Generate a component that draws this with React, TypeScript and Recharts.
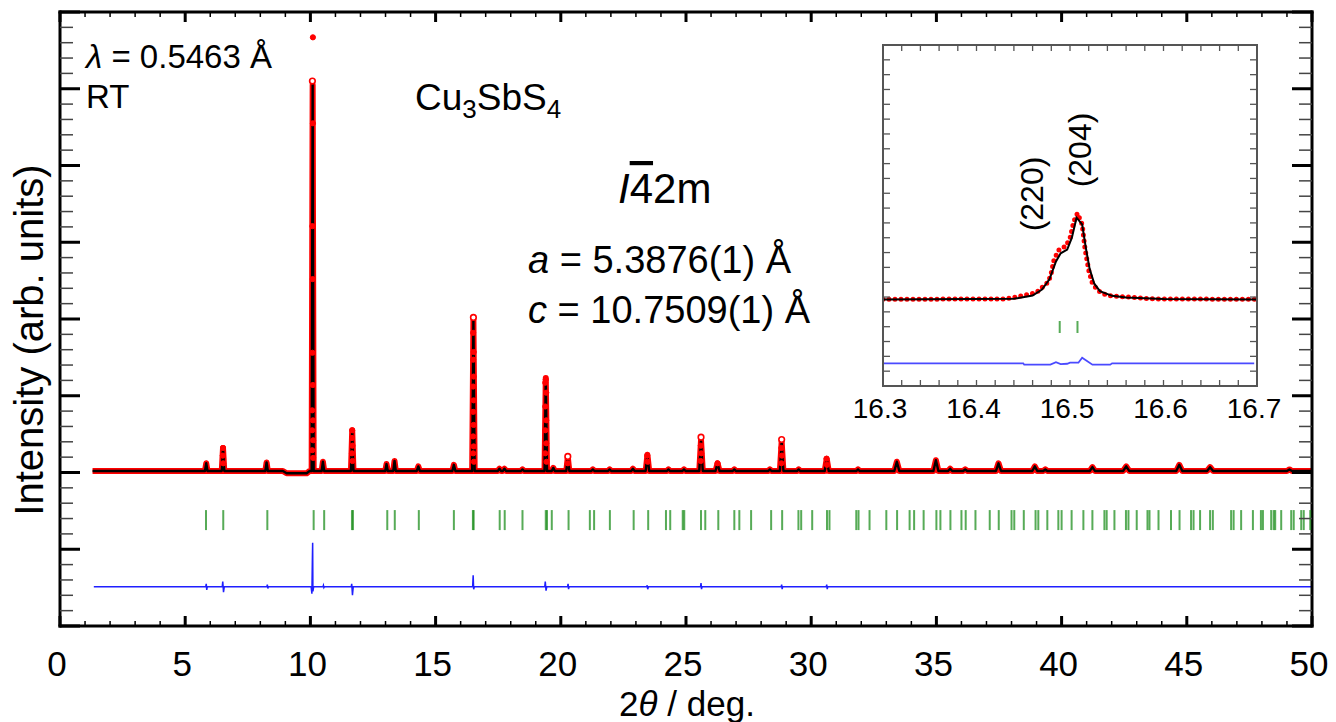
import React from 'react';
import { ComposedChart, Line, Scatter, XAxis, YAxis } from 'recharts';

const FONT = '"Liberation Sans", Arial, Helvetica, sans-serif';

// ---- main pattern (2theta in deg, intensity in major-tick units) ----
const xMajorTicks = [0, 5, 10, 15, 20, 25, 30, 35, 40, 45, 50];
const background = 2.02;

// background of the calculated pattern, incl. the small dip before the 10 deg peak
const baselinePoints: [number, number][] = [
  [1.3, 2.02], [8.9, 2.02], [9.05, 1.99], [9.85, 1.99], [9.97, 2.02], [50, 2.02],
];

// [position, top, half width]
const peaks: [number, number, number][] = [
  [5.84, 2.12, 0.05], [6.51, 2.32, 0.05], [8.25, 2.13, 0.05], [10.09, 7.05, 0.04],
  [10.5, 2.14, 0.05], [11.67, 2.55, 0.05], [13.04, 2.11, 0.05], [13.36, 2.15, 0.05],
  [14.31, 2.08, 0.06], [15.73, 2.1, 0.06], [16.51, 3.99, 0.05], [17.55, 2.05, 0.06],
  [17.75, 2.05, 0.06], [18.47, 2.04, 0.06], [19.4, 3.23, 0.05], [19.7, 2.06, 0.06],
  [20.28, 2.2, 0.06], [21.28, 2.04, 0.06], [21.95, 2.04, 0.06], [22.88, 2.05, 0.06],
  [23.46, 2.23, 0.07], [24.3, 2.04, 0.06], [24.92, 2.04, 0.06], [25.6, 2.42, 0.07],
  [26.26, 2.12, 0.08], [26.93, 2.04, 0.06], [28.35, 2.04, 0.06], [28.82, 2.4, 0.07],
  [29.5, 2.04, 0.06], [30.62, 2.18, 0.08], [31.87, 2.04, 0.06], [33.42, 2.14, 0.1],
  [34.98, 2.16, 0.1], [35.55, 2.05, 0.08], [36.15, 2.04, 0.08], [37.48, 2.12, 0.1],
  [38.93, 2.08, 0.1], [39.35, 2.04, 0.08], [41.23, 2.07, 0.1], [42.58, 2.08, 0.12],
  [44.7, 2.1, 0.12], [45.93, 2.07, 0.12], [49.1, 2.04, 0.1],
];

// observed points that stand out on the peak flanks
const obsFilled: [number, number][] = [
  [10.1, 7.67], [10.1, 6.55], [10.08, 5.21], [10.09, 4.52], [10.08, 3.56], [10.1, 3.14],
  [10.07, 2.81], [10.1, 2.68], [10.07, 2.55], [10.11, 2.42], [10.07, 2.29], [10.11, 2.19],
  [16.5, 3.82], [16.52, 3.57], [16.5, 3.47], [16.52, 3.25], [16.5, 3.12], [16.52, 2.94],
  [16.5, 2.79], [16.52, 2.62], [16.5, 2.47], [16.52, 2.34], [16.5, 2.25], [16.53, 2.14],
  [19.4, 3.21], [19.38, 3.17], [19.42, 3.04], [19.38, 2.86], [19.42, 2.68], [19.38, 2.55],
  [19.42, 2.38], [19.38, 2.25], [19.43, 2.14],
  [11.67, 2.55], [11.66, 2.45], [11.68, 2.35], [11.66, 2.25], [11.68, 2.15],
  [6.51, 2.32], [6.5, 2.22], [6.52, 2.12],
  [25.59, 2.35], [25.61, 2.25], [25.59, 2.15],
  [28.81, 2.32], [28.83, 2.22], [28.81, 2.12],
  [20.28, 2.12], [23.45, 2.22], [23.47, 2.14], [30.61, 2.18], [30.63, 2.1], [26.26, 2.12],
];
const obsOpen: [number, number][] = [
  [10.08, 7.1], [16.51, 4.02], [25.6, 2.46], [28.82, 2.43], [20.28, 2.21],
];

// Bragg reflection positions
const braggLevel = 1.38;
const braggPositions = [
  5.83, 6.52, 8.28, 10.13, 10.55, 11.66, 11.7, 13.07, 13.37, 14.33, 15.73, 16.49, 16.52,
  17.56, 17.76, 18.47, 19.4, 19.45, 19.64, 20.31, 21.16, 21.33, 21.96, 22.91, 23.49, 24.2,
  24.37, 24.87, 24.93, 25.6, 25.77, 26.29, 26.93, 27.13, 27.6, 28.4, 28.84, 29.49, 29.6,
  30.04, 30.63, 30.73, 31.8, 31.89, 32.33, 33.0, 33.43, 33.93, 34.11, 34.49, 35.0, 35.16,
  35.56, 36.0, 36.17, 36.56, 37.13, 37.49, 38.0, 38.11, 38.49, 38.96, 39.07, 39.43, 39.87,
  40.0, 40.4, 40.87, 41.23, 41.71, 41.8, 42.11, 42.57, 42.67, 43.0, 43.43, 43.51, 43.87,
  44.37, 44.71, 45.17, 45.27, 45.53, 45.93, 46.04, 46.77, 46.87, 47.17, 47.64, 47.96, 48.04,
  48.37, 48.47, 48.53, 48.77, 49.17, 49.27, 49.57, 49.67, 49.93,
];

// obs - calc, offset below the ticks
const diffPoints: [number, number][] = [
  [1.35, 0.51], [5.82, 0.51], [5.84, 0.55], [5.86, 0.47], [5.88, 0.51], [6.48, 0.51],
  [6.5, 0.58], [6.53, 0.44], [6.56, 0.51], [8.26, 0.51], [8.28, 0.54], [8.3, 0.49],
  [8.32, 0.51], [10.03, 0.51], [10.06, 0.42], [10.08, 0.9], [10.09, 1.085], [10.1, 0.45],
  [10.13, 0.51], [10.5, 0.51], [10.52, 0.53], [10.54, 0.5], [10.56, 0.51], [11.63, 0.51],
  [11.65, 0.55], [11.68, 0.4], [11.71, 0.51], [16.48, 0.51], [16.5, 0.66], [16.52, 0.48],
  [16.55, 0.51], [19.36, 0.51], [19.38, 0.58], [19.41, 0.46], [19.44, 0.51], [20.27, 0.51],
  [20.29, 0.55], [20.31, 0.48], [20.33, 0.51], [23.43, 0.51], [23.45, 0.53], [23.47, 0.48],
  [23.5, 0.51], [25.58, 0.51], [25.6, 0.56], [25.62, 0.48], [25.64, 0.51], [28.8, 0.51],
  [28.82, 0.54], [28.84, 0.48], [28.86, 0.51], [30.6, 0.51], [30.62, 0.54], [30.64, 0.48],
  [30.66, 0.51], [50, 0.51],
];

// ---- inset around 16.5 deg ----
const insetObs: [number, number][] = [
  [16.3, 5.85], [16.43, 5.87], [16.446, 6.05], [16.464, 6.3], [16.473, 6.81], [16.477, 7.03],
  [16.48, 7.64], [16.483, 8.54], [16.488, 9.17], [16.492, 9.35], [16.495, 9.39], [16.5, 9.96],
  [16.504, 11.08], [16.508, 11.65], [16.513, 10.9], [16.516, 9.28], [16.52, 7.82],
  [16.524, 6.92], [16.529, 6.52], [16.534, 6.25], [16.543, 6.09], [16.557, 6.02],
  [16.59, 5.87], [16.7, 5.85],
];
const insetCalc: [number, number][] = [
  [16.3, 5.83], [16.44, 5.88], [16.46, 6.1], [16.47, 6.5], [16.478, 7.2], [16.485, 8.4],
  [16.49, 8.95], [16.497, 9.2], [16.502, 10.0], [16.507, 11.35], [16.513, 10.9],
  [16.517, 9.3], [16.521, 7.9], [16.526, 6.9], [16.532, 6.4], [16.545, 6.08], [16.56, 5.97],
  [16.6, 5.86], [16.7, 5.84],
];
const insetDiff: [number, number][] = [
  [16.3, 1.53], [16.45, 1.53], [16.451, 1.44], [16.479, 1.44], [16.485, 1.6], [16.49, 1.48],
  [16.497, 1.5], [16.5, 1.57], [16.509, 1.57], [16.513, 1.91], [16.524, 1.44],
  [16.543, 1.44], [16.545, 1.53], [16.697, 1.53],
];
const insetBragg = [16.489, 16.508];
const insetBraggLevel = 3.98;
const insetLabelTicks = [16.3, 16.4, 16.5, 16.6, 16.7];

// ---- helpers ----
const pts = (a: [number, number][]) => a.map(([x, y]) => ({ x, y }));
const steps = (from: number, to: number, step: number) => {
  const out: number[] = [];
  for (let v = from; v <= to + step / 2; v += step) out.push(Math.round(v * 1000) / 1000);
  return out;
};
const isMultiple = (v: number, step: number) => Math.abs(v / step - Math.round(v / step)) < 1e-6;

const profile = [
  ...pts(baselinePoints),
  ...peaks.flatMap(([p, h, w]) => [
    { x: p - w, y: background },
    { x: p, y: h },
    { x: p + w, y: background },
  ]),
].sort((a, b) => a.x - b.x);

const braggData = braggPositions.map((x) => ({ x, y: braggLevel }));
const insetBraggData = insetBragg.map((x) => ({ x, y: insetBraggLevel }));

const xTicks = steps(0, 50, 1);
const yTicks = steps(0, 8, 0.2);
const insetXTicks = steps(16.3, 16.7, 0.02);
const insetYTicks = steps(0, 23, 1);

const frame = { stroke: '#000', strokeWidth: 3, strokeLinecap: 'square' as const };
const insetFrame = { stroke: '#555', strokeWidth: 2, strokeLinecap: 'square' as const };

// ticks point into the plot
const BottomTick = (p: any) => {
  const v = p.payload.value;
  const major = xMajorTicks.includes(v);
  return (
    <g>
      <line x1={p.x} x2={p.x} y1={p.y} y2={p.y - (major ? 10 : 5)} stroke="#000" strokeWidth={major ? 3 : 1.5} />
      {major && (
        <text x={p.x - 3} y={p.y + 50} textAnchor="middle" fontSize={35} fontFamily={FONT} fill="#000">
          {v}
        </text>
      )}
    </g>
  );
};
const TopTick = (p: any) => {
  const major = xMajorTicks.includes(p.payload.value);
  return <line x1={p.x} x2={p.x} y1={p.y} y2={p.y + (major ? 10 : 5)} stroke="#000" strokeWidth={major ? 3 : 1.5} />;
};
const LeftTick = (p: any) => {
  const major = isMultiple(p.payload.value, 1);
  return <line x1={p.x} x2={p.x + (major ? 20 : 13)} y1={p.y} y2={p.y} stroke={major ? '#000' : '#444'} strokeWidth={major ? 3 : 1.5} />;
};
const RightTick = (p: any) => {
  const major = isMultiple(p.payload.value, 1);
  return <line x1={p.x} x2={p.x - (major ? 20 : 13)} y1={p.y} y2={p.y} stroke={major ? '#000' : '#444'} strokeWidth={major ? 3 : 1.5} />;
};

const InsetBottomTick = (p: any) => {
  const v = p.payload.value;
  const labelled = insetLabelTicks.some((t) => Math.abs(t - v) < 1e-6);
  return (
    <g>
      <line x1={p.x} x2={p.x} y1={p.y} y2={p.y - 6} stroke="#555" strokeWidth={1.3} />
      {labelled && (
        <text x={p.x - 3} y={p.y + 32} textAnchor="middle" fontSize={28} fontFamily={FONT} fill="#000">
          {v.toFixed(1)}
        </text>
      )}
    </g>
  );
};
const InsetTopTick = (p: any) => <line x1={p.x} x2={p.x} y1={p.y} y2={p.y + 6} stroke="#555" strokeWidth={1.3} />;
const InsetLeftTick = (p: any) => <line x1={p.x} x2={p.x + 7} y1={p.y} y2={p.y} stroke="#555" strokeWidth={1.3} />;
const InsetRightTick = (p: any) => <line x1={p.x} x2={p.x - 7} y1={p.y} y2={p.y} stroke="#555" strokeWidth={1.3} />;

const RedDot = (p: any) => <circle cx={p.cx} cy={p.cy} r={2.6} fill="#ff0000" stroke="#ff0000" strokeWidth={1} />;
const OpenDot = (p: any) => <circle cx={p.cx} cy={p.cy} r={2.8} fill="#fff" stroke="#ff0000" strokeWidth={1.6} />;
const BraggTick = (p: any) => (
  <line x1={p.cx} x2={p.cx} y1={p.cy - 10} y2={p.cy + 10} stroke="#1f8f1f" strokeOpacity={0.75} strokeWidth={2} />
);
const InsetBraggTick = (p: any) => (
  <line x1={p.cx} x2={p.cx} y1={p.cy - 6} y2={p.cy + 6} stroke="#1f8f1f" strokeOpacity={0.75} strokeWidth={2} />
);

const axisCommon = {
  type: 'number' as const,
  allowDataOverflow: true,
  interval: 0 as const,
  tickSize: 0,
  tickMargin: 0,
  tickLine: false,
};

const MainChart = () => (
  <ComposedChart width={1336} height={722} margin={{ top: 11, right: 23, bottom: 95, left: 59 }}>
    <XAxis xAxisId="b" dataKey="x" domain={[0, 50]} ticks={xTicks} height={1} axisLine={frame} tick={BottomTick} {...axisCommon} />
    <XAxis xAxisId="t" orientation="top" dataKey="x" domain={[0, 50]} ticks={xTicks} height={1} axisLine={frame} tick={TopTick} {...axisCommon} />
    <YAxis yAxisId="l" dataKey="y" domain={[0, 8]} ticks={yTicks} width={1} axisLine={frame} tick={LeftTick} {...axisCommon} />
    <YAxis yAxisId="r" orientation="right" dataKey="y" domain={[0, 8]} ticks={yTicks} width={1} axisLine={frame} tick={RightTick} {...axisCommon} />

    {/* observed: dense points drawn as a thick red band */}
    <Line xAxisId="b" yAxisId="l" data={profile} dataKey="y" type="linear" stroke="#ff0000" strokeWidth={6}
      strokeLinejoin="round" dot={false} activeDot={false} isAnimationActive={false} />
    {/* calculated */}
    <Line xAxisId="b" yAxisId="l" data={profile} dataKey="y" type="linear" stroke="#000" strokeWidth={2.4}
      strokeLinejoin="round" dot={false} activeDot={false} isAnimationActive={false} />
    {/* difference */}
    <Line xAxisId="b" yAxisId="l" data={pts(diffPoints)} dataKey="y" type="linear" stroke="#1f1fff" strokeWidth={1.5}
      dot={false} activeDot={false} isAnimationActive={false} />
    <Scatter xAxisId="b" yAxisId="l" data={pts(obsFilled)} dataKey="y" shape={RedDot} isAnimationActive={false} />
    <Scatter xAxisId="b" yAxisId="l" data={pts(obsOpen)} dataKey="y" shape={OpenDot} isAnimationActive={false} />
    <Scatter xAxisId="b" yAxisId="l" data={braggData} dataKey="y" shape={BraggTick} isAnimationActive={false} />
  </ComposedChart>
);

const InsetChart = () => (
  <ComposedChart width={440} height={400} margin={{ top: 14, right: 32, bottom: 43, left: 32 }}>
    <XAxis xAxisId="b" dataKey="x" domain={[16.3, 16.7]} ticks={insetXTicks} height={1} axisLine={insetFrame} tick={InsetBottomTick} {...axisCommon} />
    <XAxis xAxisId="t" orientation="top" dataKey="x" domain={[16.3, 16.7]} ticks={insetXTicks} height={1} axisLine={insetFrame} tick={InsetTopTick} {...axisCommon} />
    <YAxis yAxisId="l" dataKey="y" domain={[0, 23]} ticks={insetYTicks} width={1} axisLine={insetFrame} tick={InsetLeftTick} {...axisCommon} />
    <YAxis yAxisId="r" orientation="right" dataKey="y" domain={[0, 23]} ticks={insetYTicks} width={1} axisLine={insetFrame} tick={InsetRightTick} {...axisCommon} />

    <Line xAxisId="b" yAxisId="l" data={pts(insetObs)} dataKey="y" type="linear" stroke="#ff0000" strokeWidth={5}
      strokeLinecap="round" strokeDasharray="0 6" dot={false} activeDot={false} isAnimationActive={false} />
    <Line xAxisId="b" yAxisId="l" data={pts(insetCalc)} dataKey="y" type="linear" stroke="#000" strokeWidth={2}
      dot={false} activeDot={false} isAnimationActive={false} />
    <Line xAxisId="b" yAxisId="l" data={pts(insetDiff)} dataKey="y" type="linear" stroke="#4a4aff" strokeWidth={1.8}
      dot={false} activeDot={false} isAnimationActive={false} />
    <Scatter xAxisId="b" yAxisId="l" data={insetBraggData} dataKey="y" shape={InsetBraggTick} isAnimationActive={false} />
  </ComposedChart>
);

const Annotations = () => (
  <svg width={1336} height={722} style={{ position: 'absolute', left: 0, top: 0, pointerEvents: 'none' }} fontFamily={FONT} fill="#000">
    <text x={86} y={68} fontSize={33}>
      <tspan fontStyle="italic">λ</tspan> = 0.5463 Å
    </text>
    <text x={86} y={108} fontSize={33}>RT</text>

    <text x={415} y={110} fontSize={37}>
      Cu<tspan fontSize={26} dy={8}>3</tspan><tspan dy={-8}>SbS</tspan><tspan fontSize={26} dy={8}>4</tspan>
    </text>

    <text x={618} y={203} fontSize={42}>
      <tspan fontStyle="italic">I</tspan><tspan style={{ textDecoration: 'overline' }}>4</tspan>2m
    </text>

    <text x={528} y={273} fontSize={38}>
      <tspan fontStyle="italic">a</tspan> = 5.3876(1) Å
    </text>
    <text x={528} y={323} fontSize={38}>
      <tspan fontStyle="italic">c</tspan> = 10.7509(1) Å
    </text>

    <text transform="translate(43, 340) rotate(-90)" textAnchor="middle" fontSize={40}>
      Intensity (arb. units)
    </text>
    <text x={687} y={716} textAnchor="middle" fontSize={35}>
      2<tspan fontStyle="italic">θ</tspan> / deg.
    </text>

    <text transform="translate(1043, 194) rotate(-90)" textAnchor="middle" fontSize={32}>(220)</text>
    <text transform="translate(1091, 150) rotate(-90)" textAnchor="middle" fontSize={32}>(204)</text>
  </svg>
);

export default function App() {
  return (
    <div style={{ position: 'absolute', left: 0, top: 0, width: 1336, height: 722, background: '#fff', fontFamily: FONT }}>
      <div style={{ position: 'absolute', left: 0, top: 0 }}>
        <MainChart />
      </div>
      <div style={{ position: 'absolute', left: 850, top: 30 }}>
        <InsetChart />
      </div>
      <Annotations />
    </div>
  );
}
